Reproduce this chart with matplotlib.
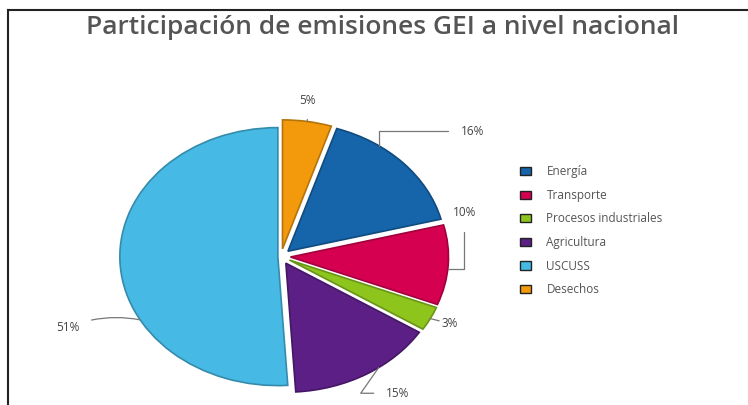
import numpy as np
import matplotlib
matplotlib.use('Agg')
import matplotlib.pyplot as plt
from matplotlib.colors import to_rgb
from matplotlib.lines import Line2D

plt.rcParams['font.family'] = ['Open Sans', 'DejaVu Sans']

# data (clockwise from the top)
categories = ['Desechos', 'Energía', 'Transporte', 'Procesos industriales', 'Agricultura', 'USCUSS']
shares = [5, 16, 10, 3, 15, 51]
colors = ['#f29a0c', '#1664a9', '#d5004f', '#8dc51d', '#5b1f85', '#46b9e4']
legend_order = ['Energía', 'Transporte', 'Procesos industriales', 'Agricultura', 'USCUSS', 'Desechos']

explode = [0.06, 0.06, 0.06, 0.06, 0.06, 0.02]
# where along each wedge the leader line starts, and where its label sits
anchor_frac = [0.5, 0.3, 0.55, 0.5, 0.4, 0.35]
label_xy = [(0.17, 1.21), (1.21, 0.97), (1.16, 0.34), (1.07, -0.52), (0.74, -1.06), (-1.35, -0.55)]
conn = ['arc3', 'angle,angleA=0,angleB=90,rad=0', 'angle,angleA=90,angleB=0,rad=0',
        'arc3', 'angle,angleA=0,angleB=55,rad=0', 'arc3,rad=-0.15']


def darker(c, f=0.75):
    r, g, b = to_rgb(c)
    return (r * f, g * f, b * f)


fig = plt.figure(figsize=(7.48, 4.05), dpi=100)
ax = fig.add_axes([0.1222, -0.0156, 0.5070, 0.7644])

wedges, _ = ax.pie(shares, colors=colors, startangle=90, counterclock=False,
                   explode=explode, wedgeprops=dict(linewidth=1.2))
for w, c in zip(wedges, colors):
    w.set_edgecolor(darker(c))
ax.set_aspect('auto')
ax.set_xlim(-1.2, 1.2)
ax.set_ylim(-1.2, 1.2)
ax.axis('off')

# percentage labels with leader lines
total = sum(shares)
start = 0.0
for i, v in enumerate(shares):
    ang = np.deg2rad(start + v / total * 360 * anchor_frac[i])
    cx, cy = wedges[i].center
    x = cx + np.sin(ang)
    y = cy + np.cos(ang)
    start += v / total * 360
    ax.annotate(f'{v}%', xy=(x, y), xytext=label_xy[i], textcoords='data',
                ha='center', va='center', fontsize=8.5, color='#444444',
                arrowprops=dict(arrowstyle='-', color='#777777', lw=0.9,
                                connectionstyle=conn[i], shrinkA=7, shrinkB=0),
                annotation_clip=False)

# legend
handles = []
for name in legend_order:
    c = colors[categories.index(name)]
    handles.append(plt.Rectangle((0, 0), 1, 1, facecolor=c, edgecolor='#222222', linewidth=1.0))
leg = fig.legend(handles, legend_order, loc='upper left', bbox_to_anchor=(0.695, 0.592),
                 frameon=False, fontsize=8.5, handlelength=0.95, handleheight=0.7,
                 labelspacing=0.9, handletextpad=1.3, borderpad=0, borderaxespad=0)
for t in leg.get_texts():
    t.set_color('#555555')

fig.text(0.512, 0.932, 'Participación de emisiones GEI a nivel nacional', ha='center', va='center',
         fontsize=19, fontweight='semibold', color='#555555')

# frame lines at left and top
fig.add_artist(Line2D([0.011, 0.011], [0.0, 0.975], color='#222222', lw=1.5))
fig.add_artist(Line2D([0.011, 1.0], [0.975, 0.975], color='#222222', lw=1.5))

fig.savefig('out.png', dpi=100, facecolor='white')
